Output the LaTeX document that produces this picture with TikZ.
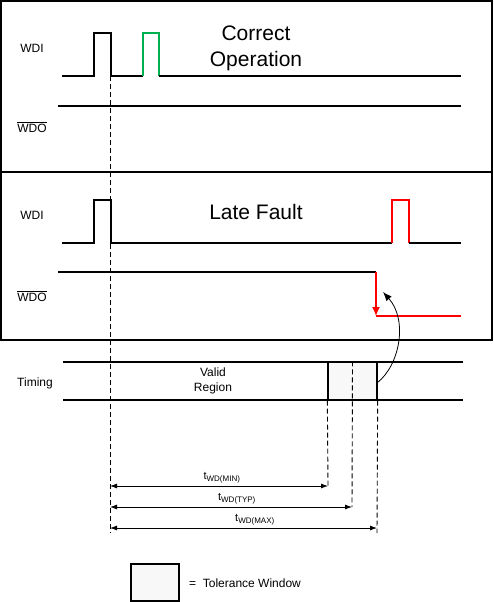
\documentclass[tikz,border=0pt]{standalone}
\usepackage{fontspec}
\setmainfont{Liberation Sans}
\usetikzlibrary{arrows.meta}
\definecolor{sgreen}{RGB}{0,176,80}
\definecolor{tolfill}{RGB}{248,248,248}
\tikzset{
  sig/.style={line width=1.3pt, line join=miter},
  panel/.style={draw, line width=1.2pt},
  vdash/.style={dashed, dash pattern=on 5pt off 3pt, line width=0.9pt},
  lbl/.style={font=\fontsize{12}{14}\selectfont, inner sep=0pt},
  title/.style={font=\fontsize{21}{25}\selectfont, align=center, inner sep=0pt},
  tlabel/.style={font=\fontsize{11}{13}\selectfont, inner sep=0pt},
  dim/.style={line width=0.8pt, {Latex[length=7pt,width=5pt]}-{Latex[length=7pt,width=5pt]}},
  tolbox/.style={draw, line width=1.3pt, fill=tolfill}
}
\newcommand{\tsub}[1]{t\textsubscript{\fontsize{8}{9}\selectfont #1}}
\begin{document}
\begin{tikzpicture}[x=1pt,y=-1pt]
\useasboundingbox (0,0) rectangle (494,602);
% panels
\draw[panel] (1,1) rectangle (492,172);
\draw[panel] (1,172) rectangle (492,340);
% top panel
\node[lbl] (wdi1) at (32,48) {WDI};
\node[lbl] (wdo1) at (32,127) {$\overline{\mbox{WDO}}$};
\node[title] (t1) at (256,48.5) {Correct\\[0.5pt]Operation};
\draw[sig] (62,76) -- (94,76) -- (94,33) -- (111,33) -- (111,76) -- (143,76);
\draw[sig, sgreen] (143,76) -- (143,33) -- (159,33) -- (159,76);
\draw[sig] (159,76) -- (461,76);
\draw[sig] (58,106) -- (461,106);
% bottom panel
\node[lbl] (wdi2) at (32,215) {WDI};
\node[lbl] (wdo2) at (32,296) {$\overline{\mbox{WDO}}$};
\node[title] (t2) at (256,212) {Late Fault};
\draw[sig] (62,243) -- (94,243) -- (94,200) -- (111,200) -- (111,243) -- (392,243);
\draw[sig, red] (392,243) -- (392,200) -- (409,200) -- (409,243);
\draw[sig] (409,243) -- (461,243);
\draw[sig] (58,272) -- (376,272);
\coordinate (fall) at (376,316);
\draw[sig, red, -{Latex[length=9pt,width=8pt]}] (376,272) -- (fall);
\draw[sig, red] (376,316) -- (461,316);
% timing
\node[lbl] (timing) at (35,383) {Timing};
\node[lbl, align=center] (valid) at (213,381) {Valid\\[1pt]Region};
\draw[sig] (63,362) -- (463,362);
\draw[sig] (63,400) -- (463,400);
\node[tolbox, minimum width=49pt, minimum height=38pt, inner sep=0pt] (tol) at (352.5,381) {};
% dashed lines
\coordinate (d0top) at (110,76);
\coordinate (d0bot) at (110,533);
\draw[vdash] (d0top) -- (d0bot);
\coordinate (dmin) at (328,486);
\coordinate (dtyp) at (352,507);
\coordinate (dmax) at (377,528);
\draw[vdash] (tol.south west) -- (dmin);
\draw[vdash] (tol.north) -- (dtyp);
\draw[vdash] (tol.south east) -- (377,533);
% dimension arrows
\coordinate (amin) at (110,486);
\coordinate (atyp) at (110,507);
\coordinate (amax) at (110,528);
\draw[dim] (amin) -- (dmin);
\draw[dim] (atyp) -- (dtyp);
\draw[dim] (amax) -- (dmax);
\node[tlabel] (lmin) at (222,478) {\tsub{WD(MIN)}};
\node[tlabel] (ltyp) at (237,499) {\tsub{WD(TYP)}};
\node[tlabel] (lmax) at (255,520) {\tsub{WD(MAX)}};
% curved arrow
\coordinate (cstart) at (377,383);
\coordinate (ctip) at (383,292);
\draw[line width=0.8pt, -{Latex[length=9pt,width=7pt]}] (cstart) .. controls (400,365) and (408,320) .. (ctip);
% legend
\node[tolbox, minimum width=48pt, minimum height=37pt, inner sep=0pt] (leg) at (155,582.5) {};
\node[lbl, anchor=west] (legtxt) at (189,583) {=~~Tolerance Window};
\end{tikzpicture}
\end{document}
